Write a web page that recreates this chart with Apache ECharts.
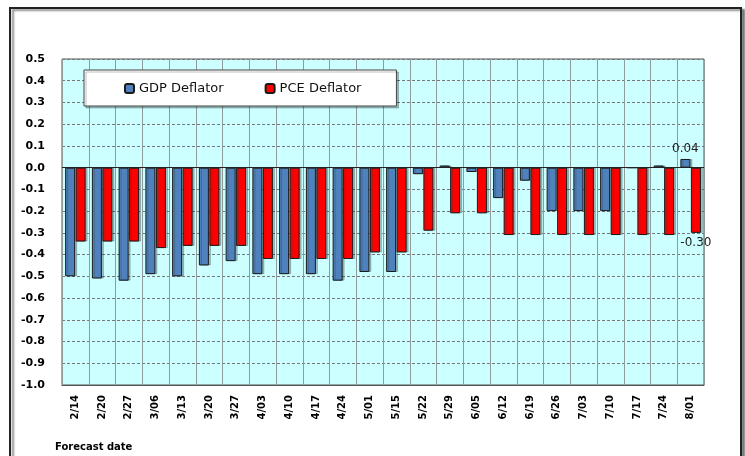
<!DOCTYPE html>
<html>
<head>
<meta charset="utf-8">
<script src="https://cdn.jsdelivr.net/npm/echarts@6/dist/echarts.min.js"></script>
<style>
  html, body { margin: 0; padding: 0; background: #fff; }
  #chart { width: 745px; height: 456px; }
</style>
</head>
<body>
<div id="chart"></div>
<script>
// forecast dates and deflator revisions
const dates = ['2/14','2/20','2/27','3/06','3/13','3/20','3/27','4/03','4/10','4/17','4/24','5/01',
               '5/15','5/22','5/29','6/05','6/12','6/19','6/26','7/03','7/10','7/17','7/24','8/01'];
const gdpDeflator = [-0.50,-0.51,-0.52,-0.49,-0.50,-0.45,-0.43,-0.49,-0.49,-0.49,-0.52,-0.48,
                     -0.48,-0.03,0.01,-0.02,-0.14,-0.06,-0.20,-0.20,-0.20,0.00,0.01,0.04];
const pceDeflator = [-0.34,-0.34,-0.34,-0.37,-0.36,-0.36,-0.36,-0.42,-0.42,-0.42,-0.42,-0.39,
                     -0.39,-0.29,-0.21,-0.21,-0.31,-0.31,-0.31,-0.31,-0.31,-0.31,-0.31,-0.30];
const yTicks = { min: -1.0, max: 0.5, step: 0.1 };

const font = 'DejaVu Sans';
const last = dates.length - 1;

// only the latest forecast gets a value label
function withLastLabel(arr, pos) {
  return arr.map((v, i) => i === last
    ? { value: v, label: { show: true, position: pos, distance: 4, color: '#222', fontSize: 12,
        fontFamily: font, formatter: p => p.value.toFixed(2) } }
    : v);
}

const chart = echarts.init(document.getElementById('chart'));
chart.setOption({
  animation: false,
  graphic: [
    { type: 'rect', z: -10, shape: { x: 10, y: 8, width: 731, height: 460 },
      style: { fill: '#fff', stroke: '#222', lineWidth: 2,
               shadowColor: 'rgba(0,0,0,0.45)', shadowOffsetX: 3, shadowOffsetY: 2, shadowBlur: 2 } },
    { type: 'text', left: 55, top: 442,
      style: { text: 'Forecast date', font: 'bold 10px "DejaVu Sans"', fill: '#000' } }
  ],
  legend: {
    left: 84, top: 70,
    padding: [12, 35, 11, 40],
    itemGap: 41, itemWidth: 9, itemHeight: 9,
    backgroundColor: '#fff', borderColor: '#444', borderWidth: 1,
    shadowColor: 'rgba(0,0,0,0.25)', shadowOffsetX: 2, shadowOffsetY: 2, shadowBlur: 0,
    textStyle: { fontFamily: font, fontSize: 13, color: '#111' },
    data: ['GDP Deflator', 'PCE Deflator']
  },
  grid: {
    left: 62, top: 59, right: 41, bottom: 71,
    show: true, backgroundColor: '#ccffff', borderColor: '#555', borderWidth: 1
  },
  xAxis: {
    type: 'category',
    data: dates,
    axisLine: { onZero: false, lineStyle: { color: '#555' } },
    axisTick: { show: false },
    splitLine: { show: true, interval: 0, lineStyle: { color: ['#8f9c9c'], width: 1 } },
    axisLabel: { rotate: 90, interval: 0, margin: 10, color: '#000', fontWeight: 'bold',
                 fontSize: 10, fontFamily: font }
  },
  yAxis: {
    type: 'value',
    min: yTicks.min, max: yTicks.max, interval: yTicks.step,
    axisLine: { show: false },
    axisTick: { show: false },
    splitLine: { lineStyle: { color: '#777', type: [3, 2], width: 1 } },
    axisLabel: { margin: 17, color: '#000', fontWeight: 'bold', fontSize: 11, fontFamily: font,
                 formatter: v => v.toFixed(1) }
  },
  series: [
    {
      name: 'GDP Deflator', type: 'bar',
      data: withLastLabel(gdpDeflator, 'top'),
      barWidth: 10, barGap: '5%',
      itemStyle: { color: '#4f81bd', borderColor: '#1a1a1a', borderWidth: 1,
                   shadowColor: 'rgba(40,60,60,0.3)', shadowOffsetX: 2, shadowOffsetY: 0 },
      markLine: {
        silent: true, symbol: 'none', label: { show: false },
        lineStyle: { color: '#222', type: 'solid', width: 1 },
        data: [{ yAxis: 0 }]
      }
    },
    {
      name: 'PCE Deflator', type: 'bar',
      data: withLastLabel(pceDeflator, 'bottom'),
      barWidth: 10,
      itemStyle: { color: '#ff0000', borderColor: '#1a1a1a', borderWidth: 1,
                   shadowColor: 'rgba(40,60,60,0.3)', shadowOffsetX: 2, shadowOffsetY: 0 }
    }
  ]
});
</script>
</body>
</html>
